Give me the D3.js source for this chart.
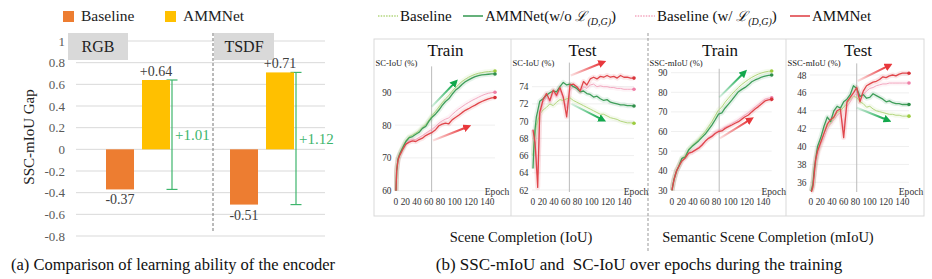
<!DOCTYPE html>
<html><head><meta charset="utf-8">
<script src="https://cdn.jsdelivr.net/npm/d3@7"></script>
<style>
html,body{margin:0;padding:0;background:#fff;}
svg{display:block;font-family:"Liberation Serif","Times New Roman",serif;}
</style></head><body>
<svg id="chart" width="932" height="279"></svg>
<script>
// ================= DATA : panel (a) =================
const modalities = ["RGB", "TSDF"];
const barSeries = ["Baseline", "AMMNet"];
const baselineGap = [-0.37, -0.51];
const ammnetGap = [0.64, 0.71];
const gapImprovement = [1.01, 1.12];   // as printed in the source figure
const gapTicks = [-0.8, -0.6, -0.4, -0.2, 0, 0.2, 0.4, 0.6, 0.8, 1];
const gapTickLabels = ["-0.8", "-0.6", "-0.4", "-0.2", "0", "0.2", "0.4", "0.6", "0.8", "1"];

// ================= DATA : panel (b) =================
const epochs = [0,1,3,5,7,10,15,20,25,30,35,40,45,50,55,60,65,70,75,80,85,90,95,100,105,110,115,120,125,130,135,140,145,150];
const epochTicks = [0, 20, 40, 60, 80, 100, 120, 140];
const epochTickLabels = ["0", "20", "40", "60", "80", "100", "120", "140"];

// Train SC-IoU (%)
const trainIoU_baseline  = [60,66.5,69.8,71,72,73.3,75.3,76.5,77,77.6,78.3,79.4,80.2,81.6,83,84.2,85.5,86.8,88,89,90.3,91.4,92.4,93.3,94,94.6,95.1,95.5,95.8,96,96.2,96.3,96.4,96.5];
const trainIoU_ammnetNoL = [60,66,69.5,70.8,71.8,73,75,76.2,76.5,77.2,77.8,79,79.6,81.2,82.5,83.4,84.6,86,87.2,88,89.4,90.6,91.4,92.4,93.2,93.8,94.3,94.8,95.1,95.3,95.4,95.5,95.6,95.6];
const trainIoU_baselineL = [60,66.3,69.6,70.8,71.6,72.8,74.5,75.3,75.6,75.6,76.2,76.8,77.5,78.2,78.8,79.6,80.6,81.3,81.8,82.2,83.2,84.1,84.9,85.6,86.3,86.9,87.5,88,88.5,89,89.4,89.7,89.9,90];
const trainIoU_ammnet    = [60,66,69.3,70.5,71.3,72.5,74.2,74.8,75.2,75,75.6,76,76.8,77.3,77.8,78.6,79.8,80.3,80.6,80.4,81.6,82.3,83,83.8,84.5,85,85.6,86.1,86.7,87.2,87.6,88,88.3,88.4];
const trainIoU_ticks = [60, 70, 80, 90];

// Test SC-IoU (%)
const testIoU_baseline  = [66,67,68.5,69.5,70,70.8,71.3,71.6,72,71.8,72.2,72.5,72.4,72.6,72.7,72.4,72.2,72,71.8,71.6,71.4,71.2,71,70.8,70.8,70.6,70.4,70.3,70.2,70,69.9,69.8,69.8,69.75];
const testIoU_ammnetNoL = [64.5,66.5,69,70.5,71.2,72.3,72.6,73,73.3,73.5,73.4,74,74.5,74.2,74.3,74,73.8,73.4,73.5,73.2,73.1,72.8,72.9,72.6,72.4,72.5,72.2,72.1,72,71.9,71.9,71.8,71.8,71.75];
const testIoU_baselineL = [69,68.5,67.8,66,64,70.5,72.2,72.8,72.2,73.3,72.8,73.6,72.6,71.5,73.6,74,73.8,73.4,74,73.8,74.2,74.3,74,74.1,74,74,73.9,73.9,73.8,73.8,73.7,73.7,73.7,73.7];
const testIoU_ammnet    = [69,68.5,67.5,65,62.3,71,72.5,73.2,72.4,73.6,73,73.9,72.8,70.5,74.2,74.3,74,73.5,74.6,74.2,74.9,75.1,74.9,75.2,75.1,75.3,75.1,75.2,75,75.3,75.1,75.1,75,75];
const testIoU_ticks = [62, 64, 66, 68, 70, 72, 74];

// Train SSC-mIoU (%)
const trainMIoU_baseline  = [30,32.3,36,38.3,40.5,42.5,46.5,47.5,51,52.8,54.5,56,58,60,62.5,65,68,71,72.5,75,77,79,80.8,82.5,84,85.3,86.5,87.6,88.5,89.3,89.9,90.4,90.7,90.85];
const trainMIoU_ammnetNoL = [30,32,35.5,37.8,40,42,46.3,47,50.6,52.3,53.8,55.2,57,58.7,61,63.3,66,68.9,69.5,72,74,76,78.2,80.3,81.5,82.5,83.8,85.4,86.3,87,87.8,88.3,88.6,88.8];
const trainMIoU_baselineL = [30,32.2,35.6,38,40.2,42.3,45.3,47,48.5,49.3,50.8,52,53.6,55.2,56.8,58,59.5,60.5,61.2,62.3,63,64,65,66,67.3,68.5,69.6,71,72.5,73.8,75.2,76.5,77,77.2];
const trainMIoU_ammnet    = [30,32,35.3,37.8,40,42,45,46.5,49,49.5,50.5,51.5,53,55,56.5,57.5,59,60,60.3,61.6,62.5,63.3,64.2,65,66.3,67.5,68.4,70,71.5,72.7,74.2,75.6,76.1,76.4];
const trainMIoU_ticks = [30, 40, 50, 60, 70, 80, 90];

// Test SSC-mIoU (%)
const testMIoU_baseline  = [35,35.3,36,37.2,38,39.3,40.3,41.5,42.3,42.6,43.2,43.8,44,44.4,44.8,45.3,45.6,45.5,45,44.8,44.4,44.5,44.2,44,43.9,43.8,43.7,43.6,43.6,43.5,43.5,43.4,43.4,43.4];
const testMIoU_ammnetNoL = [35,35.2,35.8,37.5,38.5,40,41,42.3,43.3,42.8,44,44.5,44.3,45,45.3,45.8,46.8,46.5,45.6,45.8,45.4,45.5,45.9,45.7,45.5,45.3,45,45.1,44.9,44.8,44.8,44.7,44.7,44.7];
const testMIoU_baselineL = [35,35.2,35.8,36.8,38,39,40.2,41,42,42.5,43,43.5,43.8,42,44.5,45,45.6,46,45.3,45.8,46.2,46.5,46.6,46.8,46.9,47,47,47.1,47.1,47.1,47.1,47.1,47.1,47.1];
const testMIoU_ammnet    = [35,35,35.5,37,38.5,39.5,40.5,41.5,42.5,43,43.3,44,44.2,41,45,45.5,46,46.6,45,46.2,46.8,47,47.2,47.3,47.5,47.8,47.7,47.9,48,47.9,48.1,48.2,48.2,48.2];
const testMIoU_ticks = [36, 38, 40, 42, 44, 46, 48];

// trend arrows, in (epoch, value) coordinates
const trainIoU_arrows  = [{kind:"green", from:[54,85.6], to:[87,92.5]}, {kind:"red", from:[56,75.3], to:[105,79.2]}];
const testIoU_arrows   = [{kind:"red", from:[56,75.3], to:[100,76.7]}, {kind:"green", from:[57,72.0], to:[100,70.3]}];
const trainMIoU_arrows = [{kind:"green", from:[71,77.4], to:[106,89.2]}, {kind:"red", from:[72,56.5], to:[115,65.5]}];
const testMIoU_arrows  = [{kind:"red", from:[71.5,47.33], to:[116,48.93]}, {kind:"green", from:[70,44.34], to:[114,43.05]}];

// ================= DRAWING =================
const svg = d3.select("#chart");
svg.append("rect").attr("width", 932).attr("height", 279).attr("fill", "#fff");
const defs = svg.append("defs");

// ---------- panel (a) ----------
const ya = d3.scaleLinear().domain([-0.8, 1]).range([236, 41]);
const x0 = d3.scaleBand().domain(modalities).range([76, 324]);
const x1 = d3.scaleBand().domain(barSeries).range([0, 64]).paddingInner(0.222);
const barColor = d3.scaleOrdinal().domain(barSeries).range(["#ED7D31", "#FFC000"]);
const gapGreen = "#3DB56C";

const ga = svg.append("g");
gapTicks.forEach((t, i) => {
  ga.append("line").attr("x1", 76).attr("x2", 325).attr("y1", ya(t)).attr("y2", ya(t))
    .attr("stroke", "#d9d9d9").attr("stroke-width", 1);
  ga.append("text").attr("x", 65).attr("y", ya(t)).attr("dy", "0.35em")
    .attr("text-anchor", "end").attr("font-size", 13).attr("fill", "#595959").text(gapTickLabels[i]);
});
const boxX = {RGB: 68, TSDF: 214};
modalities.forEach(m => {
  ga.append("rect").attr("x", boxX[m]).attr("y", 33).attr("width", 60).attr("height", 27).attr("fill", "#d9d9d9");
  ga.append("text").attr("x", boxX[m] + 30).attr("y", 46.5).attr("dy", "0.35em")
    .attr("text-anchor", "middle").attr("font-size", 16).attr("fill", "#222").text(m);
});
ga.append("line").attr("x1", 213).attr("x2", 213).attr("y1", 33).attr("y2", 232)
  .attr("stroke", "#777").attr("stroke-dasharray", "3,2").attr("stroke-width", 1);

const barRows = modalities.map((m, i) => ({m, vals: [baselineGap[i], ammnetGap[i]], gap: gapImprovement[i]}));
barRows.forEach(row => {
  const left = x0(row.m) + x0.bandwidth() / 2 - 32;
  const ex = left + x1("AMMNet") + x1.bandwidth() + 2;
  const hi = d3.max(row.vals), lo = d3.min(row.vals);
  ga.append("line").attr("x1", ex).attr("x2", ex).attr("y1", ya(hi)).attr("y2", ya(lo)).attr("stroke", gapGreen).attr("stroke-width", 1.2);
  [hi, lo].forEach(v => ga.append("line").attr("x1", ex - 5.5).attr("x2", ex + 5.5).attr("y1", ya(v)).attr("y2", ya(v)).attr("stroke", gapGreen).attr("stroke-width", 1.2));
  row.vals.forEach((v, j) => {
    const s = barSeries[j];
    ga.append("rect").attr("x", left + x1(s)).attr("width", x1.bandwidth())
      .attr("y", ya(Math.max(0, v))).attr("height", Math.abs(ya(v) - ya(0))).attr("fill", barColor(s));
    ga.append("text").attr("x", left + x1(s) + x1.bandwidth() / 2)
      .attr("y", v >= 0 ? ya(v) - 4 : ya(v) + 15).attr("text-anchor", "middle")
      .attr("font-size", 14).attr("fill", "#404040").text((v >= 0 ? "+" : "-") + Math.abs(v).toFixed(2));
  });
  ga.append("text").attr("x", ex + 3).attr("y", ya((hi + lo) / 2)).attr("dy", "0.35em")
    .attr("font-size", 15).attr("fill", gapGreen).text("+" + row.gap.toFixed(2));
});
ga.append("text").attr("transform", "translate(34,137) rotate(-90)").attr("text-anchor", "middle")
  .attr("font-size", 15).attr("fill", "#222").text("SSC-mIoU Gap");
const legA = [{s: "Baseline", x: 63}, {s: "AMMNet", x: 165}];
legA.forEach(d => {
  ga.append("rect").attr("x", d.x).attr("y", 11).attr("width", 11).attr("height", 11).attr("fill", barColor(d.s));
  ga.append("text").attr("x", d.x + 18).attr("y", 21).attr("font-size", 15.5).attr("fill", "#222").text(d.s);
});
ga.append("text").attr("x", 173).attr("y", 270).attr("text-anchor", "middle").attr("font-size", 16.5).attr("fill", "#111")
  .text("(a) Comparison of learning ability of the encoder");

// ---------- panel (b) ----------
const colors = {
  baseline: "#b3d67e", noL: "#3f9e5a", baselineL: "#f3a8c0", ammnet: "#e0464b",
  arrowGreen: "#12a84c", arrowRed: "#e8383c"
};
const gb = svg.append("g");
gb.append("rect").attr("x", 374).attr("y", 39).attr("width", 550).attr("height", 177)
  .attr("fill", "none").attr("stroke", "#d9d9d9").attr("stroke-width", 1);
[511, 786].forEach(x => gb.append("line").attr("x1", x).attr("x2", x).attr("y1", 39).attr("y2", 216).attr("stroke", "#d9d9d9"));
gb.append("line").attr("x1", 648).attr("x2", 648).attr("y1", 33).attr("y2", 252)
  .attr("stroke", "#999").attr("stroke-dasharray", "3,2").attr("stroke-width", 1);

const panels = [
  {title: "Train", ylabel: "SC-IoU (%)", left: 374, right: 511, xr: [396, 495], yd: [60, 90], yr: [190.7, 92.3], top: 97.9,
   ticks: trainIoU_ticks, marker: 54, arrows: trainIoU_arrows,
   series: [trainIoU_baseline, trainIoU_baselineL, trainIoU_ammnetNoL, trainIoU_ammnet]},
  {title: "Test", ylabel: "SC-IoU (%)", left: 511, right: 648, xr: [533, 634], yd: [62, 74], yr: [190, 86.7], top: 76.8,
   ticks: testIoU_ticks, marker: 54, arrows: testIoU_arrows,
   series: [testIoU_baseline, testIoU_baselineL, testIoU_ammnetNoL, testIoU_ammnet]},
  {title: "Train", ylabel: "SSC-mIoU (%)", left: 648, right: 786, xr: [672, 771.7], yd: [30, 90], yr: [190.3, 72.7], top: 92,
   ticks: trainMIoU_ticks, marker: 71, arrows: trainMIoU_arrows,
   series: [trainMIoU_baseline, trainMIoU_baselineL, trainMIoU_ammnetNoL, trainMIoU_ammnet]},
  {title: "Test", ylabel: "SSC-mIoU (%)", left: 786, right: 924, xr: [811, 909], yd: [36, 48], yr: [182.3, 75], top: 49.3,
   ticks: testMIoU_ticks, marker: 70, arrows: testMIoU_arrows,
   series: [testMIoU_baseline, testMIoU_baselineL, testMIoU_ammnetNoL, testMIoU_ammnet]}
];
const seriesStyle = [
  {c: colors.baseline, w: 1, dot: "#9ccc3f"},
  {c: colors.baselineL, w: 1, dot: "#ef7fa6"},
  {c: colors.noL, w: 1.3, dot: "#2f8f4a"},
  {c: colors.ammnet, w: 1.3, dot: "#d8333a"}
];

panels.forEach((p, pi) => {
  const x = d3.scaleLinear().domain([0, 150]).range(p.xr);
  const y = d3.scaleLinear().domain(p.yd).range(p.yr);
  const g = gb.append("g");
  const clipId = "clip" + pi;
  defs.append("clipPath").attr("id", clipId).append("rect")
    .attr("x", p.xr[0] - 2).attr("y", y(p.top)).attr("width", p.xr[1] - p.xr[0] + 6).attr("height", 196 - y(p.top));
  p.ticks.forEach(t => g.append("line").attr("x1", p.xr[0] - 1).attr("x2", p.xr[1]).attr("y1", y(t)).attr("y2", y(t))
    .attr("stroke", "#efefef").attr("stroke-width", 1));
  const ax = g.append("g").attr("transform", `translate(${p.xr[0]},0)`)
    .call(d3.axisLeft(y).tickValues(p.ticks).tickSize(0).tickPadding(4.5).tickFormat(d3.format("d")));
  ax.select(".domain").remove();
  ax.selectAll("text").attr("font-size", 9.4).attr("font-family", "Liberation Serif, serif").attr("fill", "#333");
  // x tick labels (one text line, as in the source)
  g.append("text").attr("x", x(epochTicks[0]) - 2.4).attr("y", 204.5).attr("font-size", 9.4).attr("fill", "#333")
    .text(epochTickLabels.join(" "));
  g.append("text").attr("x", x(150) + 2).attr("y", 195).attr("text-anchor", "middle").attr("font-size", 9.6).attr("fill", "#333").text("Epoch");
  g.append("text").attr("x", (p.left + p.right) / 2 + 3).attr("y", 56).attr("text-anchor", "middle").attr("font-size", 17).attr("fill", "#111").text(p.title);
  g.append("text").attr("x", p.left + 1.5).attr("y", 66).attr("font-size", 8.6).attr("fill", "#222").text(p.ylabel);
  g.append("line").attr("x1", x(p.marker)).attr("x2", x(p.marker)).attr("y1", y(p.top)).attr("y2", 192)
    .attr("stroke", "#bbb").attr("stroke-width", 1);
  const lg = g.append("g").attr("clip-path", `url(#${clipId})`);
  const line = d3.line().x((d, i) => x(epochs[i])).y(d => y(d));
  p.series.forEach((s, si) => {
    lg.append("path").attr("d", line(s)).attr("fill", "none").attr("stroke", seriesStyle[si].c)
      .attr("stroke-width", 5).attr("stroke-opacity", 0.13).attr("stroke-linejoin", "round");
  });
  p.series.forEach((s, si) => {
    lg.append("path").attr("d", line(s)).attr("fill", "none").attr("stroke", seriesStyle[si].c)
      .attr("stroke-width", seriesStyle[si].w).attr("stroke-linejoin", "round");
    lg.append("circle").attr("cx", x(epochs[epochs.length - 1])).attr("cy", y(s[s.length - 1])).attr("r", 1.8).attr("fill", seriesStyle[si].dot);
  });
  p.arrows.forEach((a, ai) => {
    const col = a.kind === "green" ? colors.arrowGreen : colors.arrowRed;
    const gid = `ag${pi}_${ai}`, mid = `am${pi}_${ai}`;
    const x1a = x(a.from[0]), y1a = y(a.from[1]), x2a = x(a.to[0]), y2a = y(a.to[1]);
    const grad = defs.append("linearGradient").attr("id", gid).attr("gradientUnits", "userSpaceOnUse")
      .attr("x1", x1a).attr("y1", y1a).attr("x2", x2a).attr("y2", y2a);
    grad.append("stop").attr("offset", 0).attr("stop-color", col).attr("stop-opacity", 0.15);
    grad.append("stop").attr("offset", 1).attr("stop-color", col).attr("stop-opacity", 1);
    defs.append("marker").attr("id", mid).attr("viewBox", "0 0 10 10").attr("refX", 2).attr("refY", 5)
      .attr("markerWidth", 4).attr("markerHeight", 4).attr("orient", "auto").attr("markerUnits", "strokeWidth")
      .append("path").attr("d", "M0,0 L10,5 L0,10 z").attr("fill", col);
    g.append("line").attr("x1", x1a).attr("y1", y1a).attr("x2", x2a).attr("y2", y2a)
      .attr("stroke", `url(#${gid})`).attr("stroke-width", 2).attr("marker-end", `url(#${mid})`);
  });
});

const legB = [
  {x: 378, c: colors.baseline, dash: "1.5,1.2", parts: [["Baseline"]]},
  {x: 463, c: colors.noL, dash: null, parts: [["AMMNet(w/o "], ["ℒ", "L"], ["(D,G)", "sub"], [")", "up"]]},
  {x: 635, c: colors.baselineL, dash: "1.5,1.2", parts: [["Baseline (w/ "], ["ℒ", "L"], ["(D,G)", "sub"], [")", "up"]]},
  {x: 790, c: colors.ammnet, dash: null, parts: [["AMMNet"]]}
];
legB.forEach(d => {
  gb.append("line").attr("x1", d.x).attr("x2", d.x + 20).attr("y1", 16).attr("y2", 16)
    .attr("stroke", d.c).attr("stroke-width", 1.6).attr("stroke-dasharray", d.dash);
  const t = gb.append("text").attr("x", d.x + 22).attr("y", 21).attr("font-size", 15).attr("fill", "#111");
  d.parts.forEach(pt => {
    const ts = t.append("tspan").text(pt[0]);
    if (pt[1] === "L") ts.attr("font-family", "DejaVu Serif, serif").attr("font-style", "italic").attr("font-size", 14);
    if (pt[1] === "sub") ts.attr("font-size", 10).attr("dy", 4).attr("font-style", "italic");
    if (pt[1] === "up") ts.attr("dy", -4);
  });
});

gb.append("text").attr("x", 521).attr("y", 242).attr("text-anchor", "middle").attr("font-size", 14.5).attr("fill", "#111").text("Scene Completion (IoU)");
gb.append("text").attr("x", 768).attr("y", 242).attr("text-anchor", "middle").attr("font-size", 14.5).attr("fill", "#111").text("Semantic Scene Completion (mIoU)");
gb.append("text").attr("x", 639).attr("y", 270).attr("text-anchor", "middle").attr("font-size", 17).attr("fill", "#111")
  .style("white-space", "pre").text("(b) SSC-mIoU and  SC-IoU over epochs during the training");
</script>
</body></html>
